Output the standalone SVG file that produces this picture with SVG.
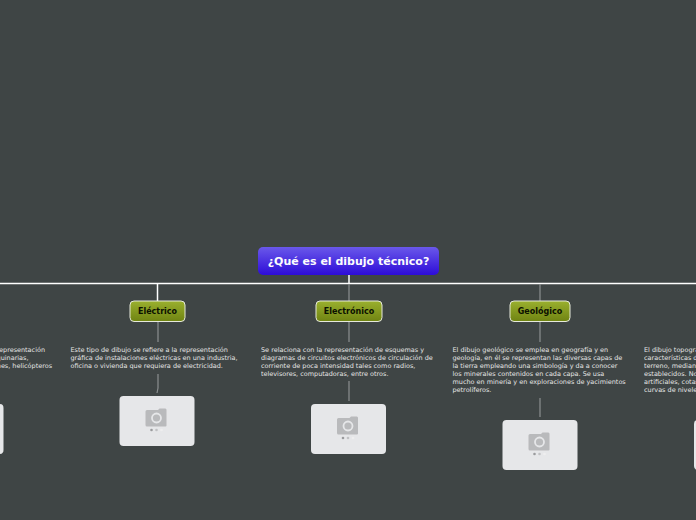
<svg xmlns="http://www.w3.org/2000/svg" width="696" height="520" viewBox="0 0 696 520">
<style>
.t{font-family:"DejaVu Sans",Verdana,sans-serif;font-size:6.47px;fill:#e8e8e8;opacity:.99}
.e{text-anchor:end}
.l{font-family:"DejaVu Sans",Verdana,sans-serif;font-size:8px;font-weight:bold;fill:#0a0f00;text-anchor:middle;opacity:.99}
.b{fill:url(#g);stroke:#e6e9dc;stroke-width:1}
.c{fill:none;stroke:#fff;stroke-width:1.5}
.s{fill:none;stroke:#8b8f90;stroke-width:1.2}
.p{fill:#e6e7e9}
.i{fill:#b9babc}
</style>
<defs>
<linearGradient id="g" x1="0" y1="0" x2="0" y2="1"><stop offset="0" stop-color="#9ab02e"/><stop offset="1" stop-color="#6f8312"/></linearGradient>
<linearGradient id="r" x1="0" y1="0" x2="0" y2="1"><stop offset="0" stop-color="#6a58ea"/><stop offset="1" stop-color="#2d0cd8"/></linearGradient>
<g id="cam"><path class="i" d="M-11-6.500q0-1.500 1.500-1.500h11l1.500-1.500h6l1 1v16q0 1-1 1h-18.500q-1.500 0-1.500-1.500z"/><circle cx="0" cy="0" r="4.500" fill="none" stroke="#e6e7e9" stroke-width="1.800"/><circle cx="-5" cy="12" r="1.300" fill="#9a9b9d"/><circle cx="0" cy="12" r="1.300" fill="#c0c1c3"/><circle cx="5" cy="12" r="1.300" fill="#eeeeef"/></g>
</defs>
<rect width="696" height="520" fill="#3f4545"/>
<g id="connectors">
<path class="c" d="M0 283.500H696M349 275V284"/>
<path class="c" d="M157.500 283V301"/>
<path class="s" d="M349 284V301M540 284V301"/>
<path class="s" d="M158 321V342M158 374V388L157 393M349 321V342M349 381V401M540 321V342M540 398V417"/>
</g>
<g id="root"><rect x="258" y="247" width="181" height="28" rx="5" fill="url(#r)"/><text x="348.500" y="265" text-anchor="middle" style="font-family:'DejaVu Sans',Verdana,sans-serif;font-size:11px;font-weight:bold;fill:#fff;opacity:.99">¿Qué es el dibujo técnico?</text></g>
<g id="n-electrico"><rect class="b" x="130" y="301" width="55" height="20.500" rx="4"/><text class="l" x="157.500" y="314">Eléctrico</text></g>
<g id="n-electronico"><rect class="b" x="316" y="301" width="66" height="20.500" rx="4"/><text class="l" x="349" y="314">Electrónico</text></g>
<g id="n-geologico"><rect class="b" x="510" y="301" width="60" height="20.500" rx="4"/><text class="l" x="540" y="314">Geológico</text></g>
<g id="t-left"><text class="t e"><tspan x="45" y="352">la representación</tspan><tspan x="28.500" y="360">de maquinarias,</tspan><tspan x="52" y="368">aviones, helicópteros</tspan></text></g>
<g id="t-electrico"><text class="t"><tspan x="70.500" y="352">Este tipo de dibujo se refiere a la representación</tspan><tspan x="70.500" y="360">gráfica de instalaciones eléctricas en una industria,</tspan><tspan x="70.500" y="368">oficina o vivienda que requiera de electricidad.</tspan></text></g>
<g id="t-electronico"><text class="t"><tspan x="261" y="352">Se relaciona con la representación de esquemas y</tspan><tspan x="261" y="360">diagramas de circuitos electrónicos de circulación de</tspan><tspan x="261" y="368">corriente de poca intensidad tales como radios,</tspan><tspan x="261" y="376">televisores, computadoras, entre otros.</tspan></text></g>
<g id="t-geologico"><text class="t"><tspan x="452.500" y="352">El dibujo geológico se emplea en geografía y en</tspan><tspan x="452.500" y="360">geología, en él se representan las diversas capas de</tspan><tspan x="452.500" y="368">la tierra empleando una simbología y da a conocer</tspan><tspan x="452.500" y="376">los minerales contenidos en cada capa. Se usa</tspan><tspan x="452.500" y="384">mucho en minería y en exploraciones de yacimientos</tspan><tspan x="452.500" y="392">petrolíferos.</tspan></text></g>
<g id="t-topografico"><text class="t"><tspan x="644" y="352">El dibujo topográfico</tspan><tspan x="644" y="360">características de</tspan><tspan x="644" y="368">terreno, mediante</tspan><tspan x="644" y="376">establecidos. No</tspan><tspan x="644" y="384">artificiales, cotas</tspan><tspan x="644" y="392">curvas de niveles</tspan></text></g>
<g id="img-left"><rect class="p" x="-71" y="404" width="74.500" height="50" rx="4"/></g>
<g id="img-electrico"><rect class="p" x="119.500" y="396" width="75" height="50" rx="4"/><use href="#cam" x="156.500" y="418"/></g>
<g id="img-electronico"><rect class="p" x="311" y="404" width="75" height="50" rx="4"/><use href="#cam" x="348" y="426"/></g>
<g id="img-geologico"><rect class="p" x="502.500" y="420" width="75" height="50" rx="4"/><use href="#cam" x="539.500" y="442"/></g>
<g id="img-topografico"><rect class="p" x="694" y="420" width="75" height="50" rx="4"/></g>
</svg>
